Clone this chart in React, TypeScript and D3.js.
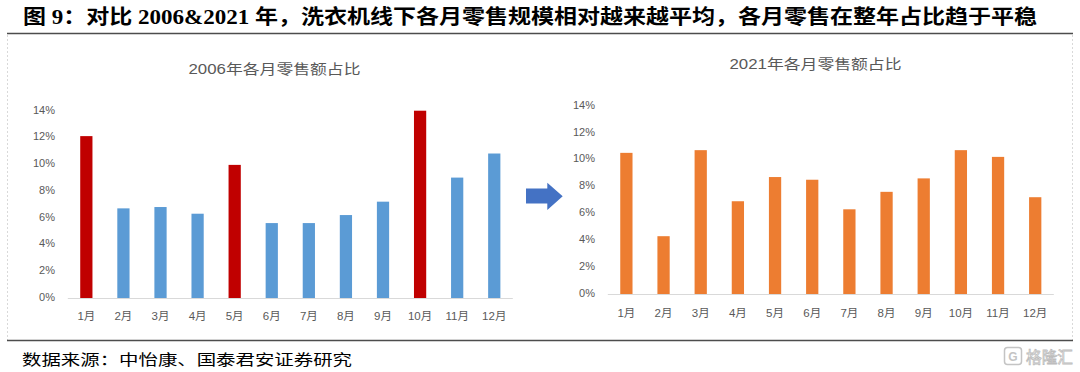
import React from "react";
import * as d3 from "d3";

const months = ["1月", "2月", "3月", "4月", "5月", "6月", "7月", "8月", "9月", "10月", "11月", "12月"];
const share2006 = [12.1, 6.7, 6.8, 6.3, 9.95, 5.6, 5.6, 6.2, 7.2, 14.0, 9.0, 10.8];
const share2021 = [10.5, 4.3, 10.7, 6.9, 8.7, 8.5, 6.3, 7.6, 8.6, 10.7, 10.2, 7.2];
const highlight2006 = ["1月", "5月", "10月"];
const yTicks = [0, 2, 4, 6, 8, 10, 12, 14];

const headerTitle = "图 9：对比 2006&2021 年，洗衣机线下各月零售规模相对越来越平均，各月零售在整年占比趋于平稳";
const sourceText = "数据来源：中怡康、国泰君安证券研究";
const title2006 = "2006年各月零售额占比";
const title2021 = "2021年各月零售额占比";

const W = 1080;
const H = 372;
const TEXT_GRAY = "#595959";
const SANS = "'Liberation Sans', 'Noto Sans CJK SC', sans-serif";

type PanelProps = {
  values: number[];
  color: (m: string) => string;
  title: string;
  x0: number;
  x1: number;
  yTop: number;
  yBottom: number;
  titleX: number;
  titleY: number;
  titleW: number;
  labelRight: number;
  xLabelY: number;
};

function Panel(p: PanelProps) {
  const x = d3.scaleBand<string>().domain(months).range([p.x0, p.x1]).paddingInner(0.67).paddingOuter(0.335);
  const y = d3.scaleLinear().domain([0, 14]).range([p.yBottom, p.yTop]);
  return (
    <g>
      <text
        x={p.titleX}
        y={p.titleY}
        textAnchor="middle"
        dominantBaseline="middle"
        fontSize={14}
        fill={TEXT_GRAY}
        fontFamily={SANS}
        textLength={p.titleW}
        lengthAdjust="spacingAndGlyphs"
      >
        {p.title}
      </text>
      {yTicks.map((t) => (
        <text
          key={t}
          x={p.labelRight}
          y={y(t)}
          textAnchor="end"
          dominantBaseline="middle"
          fontSize={11}
          fill={TEXT_GRAY}
          fontFamily={SANS}
        >
          {t + "%"}
        </text>
      ))}
      {months.map((m, i) => (
        <rect
          key={m}
          x={x(m)}
          y={y(p.values[i])}
          width={x.bandwidth()}
          height={y(0) - y(p.values[i])}
          fill={p.color(m)}
        />
      ))}
      <line x1={p.x0} x2={p.x1} y1={y(0) + 0.5} y2={y(0) + 0.5} stroke="#d9d9d9" strokeWidth={1} />
      {months.map((m) => (
        <text
          key={m}
          x={(x(m) as number) + x.bandwidth() / 2}
          y={p.xLabelY}
          textAnchor="middle"
          dominantBaseline="middle"
          fontSize={11.5}
          fill={TEXT_GRAY}
          fontFamily={SANS}
        >
          {m}
        </text>
      ))}
    </g>
  );
}

export default function App() {
  return (
    <svg width={W} height={H} style={{ position: "absolute", left: 0, top: 0, background: "#fff" }}>
      <rect x={0} y={0} width={W} height={H} fill="#fff" />
      <text
        x={23}
        y={23.5}
        fontSize={20}
        fontWeight="bold"
        fill="#000"
        fontFamily="'Liberation Serif', 'Noto Sans CJK SC', serif"
        textLength={1014}
        lengthAdjust="spacingAndGlyphs"
      >
        {headerTitle}
      </text>
      <line x1={7} x2={1073} y1={33.5} y2={33.5} stroke="#4d4d4d" strokeWidth={1.5} />
      <line x1={7.5} x2={7.5} y1={35} y2={340} stroke="#d9d9d9" strokeWidth={1} strokeDasharray="2,2" />
      <line x1={1072.5} x2={1072.5} y1={35} y2={340} stroke="#d9d9d9" strokeWidth={1} strokeDasharray="2,2" />

      <Panel
        values={share2006}
        color={(m) => (highlight2006.includes(m) ? "#C00000" : "#5B9BD5")}
        title={title2006}
        x0={67.8}
        x1={512.8}
        yTop={110.7}
        yBottom={298}
        titleX={274.5}
        titleY={70}
        titleW={172}
        labelRight={55}
        xLabelY={317}
      />
      <Panel
        values={share2021}
        color={() => "#ED7D31"}
        title={title2021}
        x0={607.8}
        x1={1053.8}
        yTop={105.8}
        yBottom={294}
        titleX={815.5}
        titleY={65}
        titleW={172}
        labelRight={595}
        xLabelY={313.5}
      />

      <polygon
        points="526,188.5 547.3,188.5 547.3,182.7 562.7,196.3 547.3,210 547.3,203.5 526,203.5"
        fill="#4472C4"
      />

      <line x1={7} x2={1073} y1={340.5} y2={340.5} stroke="#4d4d4d" strokeWidth={1.5} />
      <text
        x={22}
        y={364.5}
        fontSize={15}
        fill="#000"
        fontFamily="'Noto Sans CJK SC', serif"
        textLength={330}
        lengthAdjust="spacingAndGlyphs"
      >
        {sourceText}
      </text>
      <g>
        <rect x={1004.5} y={347.5} width={17} height={17} rx={3} fill="none" stroke="#c4c4c4" strokeWidth={1.5} />
        <text x={1013} y={360.5} textAnchor="middle" fontSize={12} fontWeight="bold" fill="#c4c4c4" fontFamily={SANS}>
          G
        </text>
        <text
          x={1026}
          y={362.5}
          fontSize={16}
          fill="none"
          stroke="#bdbdbd"
          strokeWidth={0.8}
          fontFamily="'Noto Sans CJK SC', sans-serif"
          textLength={47}
          lengthAdjust="spacingAndGlyphs"
        >
          格隆汇
        </text>
      </g>
    </svg>
  );
}
